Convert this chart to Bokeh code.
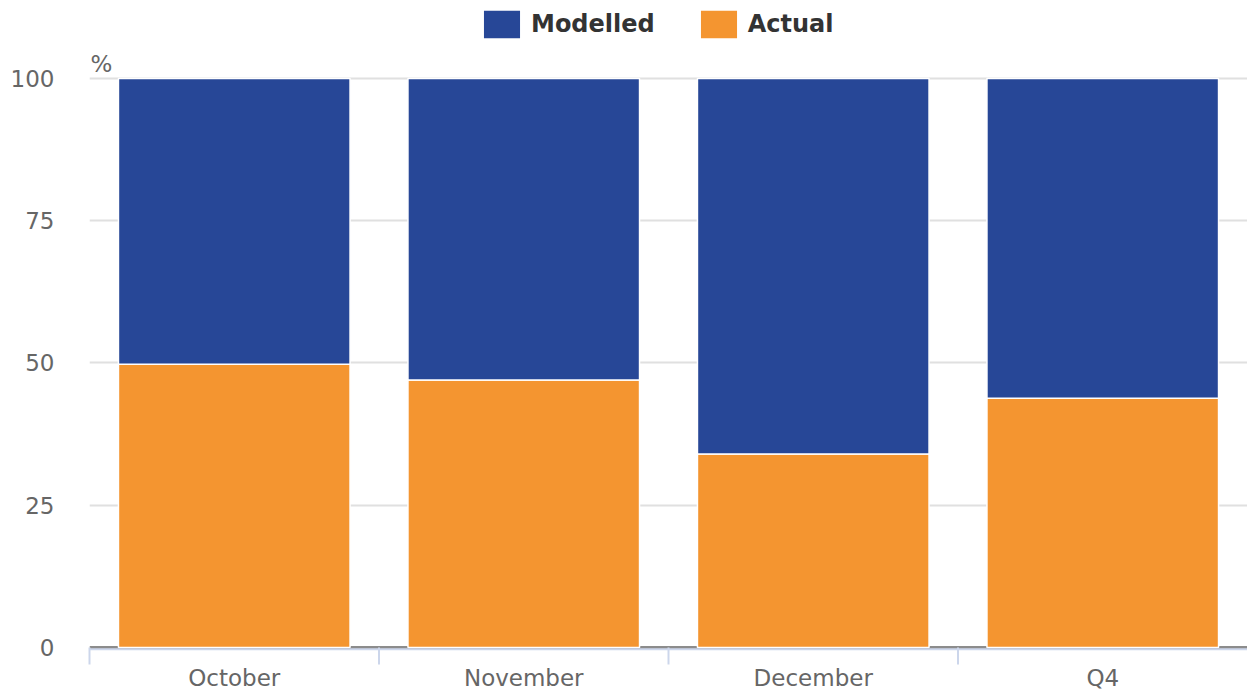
from bokeh.plotting import figure
from bokeh.models import (FactorRange, Range1d, FixedTicker, Legend, LegendItem,
                          Label, ColumnDataSource)
from bokeh.embed import file_html
from bokeh.resources import INLINE

categories = ["October", "November", "December", "Q4"]
actual = [49.8, 47.0, 34.0, 43.8]
modelled = [50.2, 53.0, 66.0, 56.2]
y_ticks = [0, 25, 50, 75, 100]

BLUE = "#274797"
ORANGE = "#F49530"
FONT = "DejaVu Sans"

y_low = -2.99    # space below zero for axis tick marks
y_high = 113.71  # space above 100 for legend and unit label

src = ColumnDataSource(dict(cat=categories, Actual=actual, Modelled=modelled))

p = figure(width=1247, height=693, x_range=FactorRange(*categories, range_padding=0),
           y_range=Range1d(y_low, y_high), output_backend="svg", toolbar_location=None,
           min_border_left=89, min_border_right=0, min_border_top=0, min_border_bottom=25)
p.outline_line_color = None
p.background_fill_color = "white"
p.border_fill_color = "white"

p.xgrid.grid_line_color = None
p.ygrid.ticker = FixedTicker(ticks=y_ticks[1:])
p.ygrid.grid_line_color = "#e0e0e0"
p.ygrid.grid_line_width = 2

# zero line under bars
p.segment(x0=[(categories[0], -0.5)], x1=[(categories[-1], 0.5)], y0=[0], y1=[0],
          line_color="#8c8c8c", line_width=3, level="underlay")

rs = p.vbar_stack(["Actual", "Modelled"], x="cat", width=0.8, source=src,
                  color=[ORANGE, BLUE], line_color="white", line_width=1.5)

# axis line and boundary ticks
p.segment(x0=[(categories[0], -0.5)], x1=[(categories[-1], 0.5)], y0=[-0.3], y1=[-0.3],
          line_color="#ccd6eb", line_width=2, level="overlay")
p.segment(x0=[(c, -0.5) for c in categories], x1=[(c, -0.5) for c in categories],
          y0=[0] * len(categories), y1=[y_low] * len(categories),
          line_color="#ccd6eb", line_width=2, level="overlay")

p.yaxis.ticker = FixedTicker(ticks=y_ticks)
p.yaxis.axis_line_color = None
p.yaxis.major_tick_line_color = None
p.yaxis.minor_tick_line_color = None
p.yaxis.major_label_standoff = 29
p.yaxis.major_label_text_font = FONT
p.yaxis.major_label_text_font_size = "23px"
p.yaxis.major_label_text_color = "#666666"

p.xaxis.axis_line_color = None
p.xaxis.major_tick_line_color = None
p.xaxis.major_tick_out = 0
p.xaxis.major_label_standoff = 0
p.xaxis.major_label_text_font = FONT
p.xaxis.major_label_text_font_size = "23px"
p.xaxis.major_label_text_color = "#666666"

p.add_layout(Label(x=0, y=100, x_units="data", y_units="data", text="%",
                   x_offset=1, y_offset=2, text_baseline="bottom", text_font=FONT,
                   text_font_size="23px", text_color="#666666"))

legend = Legend(items=[LegendItem(label="Modelled", renderers=[rs[1]]),
                       LegendItem(label="Actual", renderers=[rs[0]])],
                orientation="horizontal", location=(389, 622),
                glyph_width=47, glyph_height=36, label_standoff=6, spacing=40,
                padding=0, margin=0, border_line_color=None, background_fill_alpha=0,
                label_text_font=FONT, label_text_font_style="bold",
                label_text_font_size="24px", label_text_color="#333333")
p.add_layout(legend, "center")

open("out.html", "w").write(file_html(p, INLINE))
